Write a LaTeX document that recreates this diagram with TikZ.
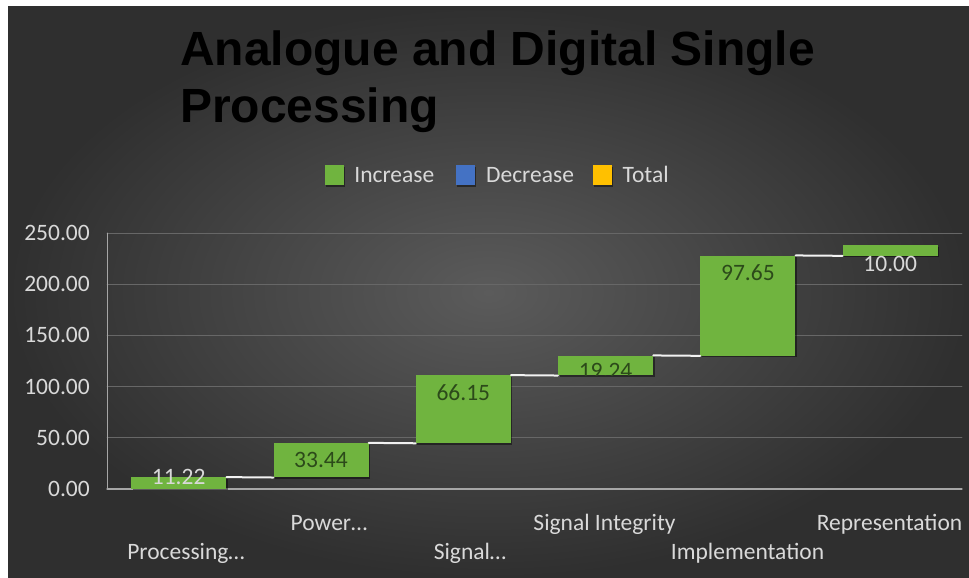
\documentclass[tikz,border=0pt]{standalone}
\usepackage{fontspec}
\setmainfont{Carlito}
\newfontfamily\titlefont{Liberation Sans}
\usetikzlibrary{positioning,shadows}
\definecolor{bgIn}{HTML}{5B5B5B}
\definecolor{bgOut}{HTML}{2F2F2F}
\definecolor{incGreen}{HTML}{70B43F}
\definecolor{decBlue}{HTML}{4472C4}
\definecolor{totGold}{HTML}{FFC000}
\definecolor{lblDark}{HTML}{2C4A1A}
\definecolor{lblLight}{HTML}{D9D9D9}
\definecolor{gridGray}{HTML}{676767}
\definecolor{axisGray}{HTML}{A6A6A6}
\begin{document}
\begin{tikzpicture}[x=1pt,y=-1pt,line join=round,line cap=round,
	every node/.style={font=\fontsize{23.5}{28}\selectfont, text=lblLight, inner sep=0pt},
	bar/.style={fill=incGreen, minimum width=95pt, anchor=south west,
		drop shadow={shadow xshift=1.5pt, shadow yshift=-1.5pt, opacity=.45, fill=black}},
	key/.style={minimum width=19pt, minimum height=20pt,
		drop shadow={shadow xshift=1pt, shadow yshift=-1.5pt, opacity=.45, fill=black}},
	keytext/.style={text height=15pt, text depth=0pt},
	link/.style={draw=white!90!gray, line width=2pt}]
	\useasboundingbox (0,0) rectangle (969,578);
	\fill[white] (0,0) rectangle (969,578);
	\shade[inner color=bgIn, outer color=bgOut] (8,7) rectangle (969,578);
	% title
	\node[anchor=north west, align=left, text=black,
		font=\titlefont\bfseries\fontsize{48}{57}\selectfont] (title) at (180,30.6)
		{Analogue and Digital Single\\Processing};
	% legend
	\node[key, fill=incGreen] (kInc) at (334.5,175) {};
	\node[keytext, right=10pt of kInc] (tInc) {Increase};
	\node[key, fill=decBlue, right=21pt of tInc] (kDec) {};
	\node[keytext, right=11pt of kDec] (tDec) {Decrease};
	\node[key, fill=totGold, right=19pt of tDec] (kTot) {};
	\node[keytext, right=10pt of kTot] (tTot) {Total};
	% grid and axes
	\foreach \v in {50,100,...,250}
	\draw[gridGray, line width=.8pt] (107,{489-1.024*\v}) -- (962,{489-1.024*\v});
	\draw[axisGray, line width=1.2pt] (107,489) -- (962,489);
	\draw[axisGray, line width=.8pt] (107,233) -- (107,489);
	\foreach \v in {0,50,...,250}
	\node[anchor=east] (t\v) at (90,{489-1.024*\v}) {\v.00};
	% bars
	\foreach \i/\base/\val in {1/0/11.22, 2/11.22/33.44, 3/44.66/66.15,
		4/110.81/19.24, 5/130.05/97.65, 6/227.70/10.00}
	{
		\pgfmathsetmacro\h{1.024*\val}
		\node[bar, minimum height=\h pt] (b\i) at ({131+142.3*(\i-1)},{489-1.024*\base}) {};
	}
	\foreach \i [evaluate=\i as \j using int(\i+1)] in {1,...,5}
	\draw[link] (b\i.north east) -- (b\j.south west);
	% data labels
	\node (l1) at (b1.north) {11.22};
	\node[text=lblDark] (l2) at ([yshift=-17pt]b2.north) {33.44};
	\node[text=lblDark] (l3) at ([yshift=-18pt]b3.north) {66.15};
	\begin{scope}
		\clip (b4.south west) rectangle (b4.north east);
		\node[text=lblDark] (l4) at ([yshift=-16pt]b4.north) {19.24};
	\end{scope}
	\node[text=lblDark] (l5) at ([yshift=-17pt]b5.north) {97.65};
	\node (l6) at ([yshift=-19pt]b6.north) {10.00};
	% category labels
	\foreach \x/\y/\t [count=\k] in {186/559/Processing…, 329/530/Power…,
		470/559/Signal…, 604.5/530/Signal Integrity, 747.5/559/Implementation,
		889.5/530/Representation}
	\node[anchor=base] (c\k) at (\x,\y) {\t};
\end{tikzpicture}
\end{document}
